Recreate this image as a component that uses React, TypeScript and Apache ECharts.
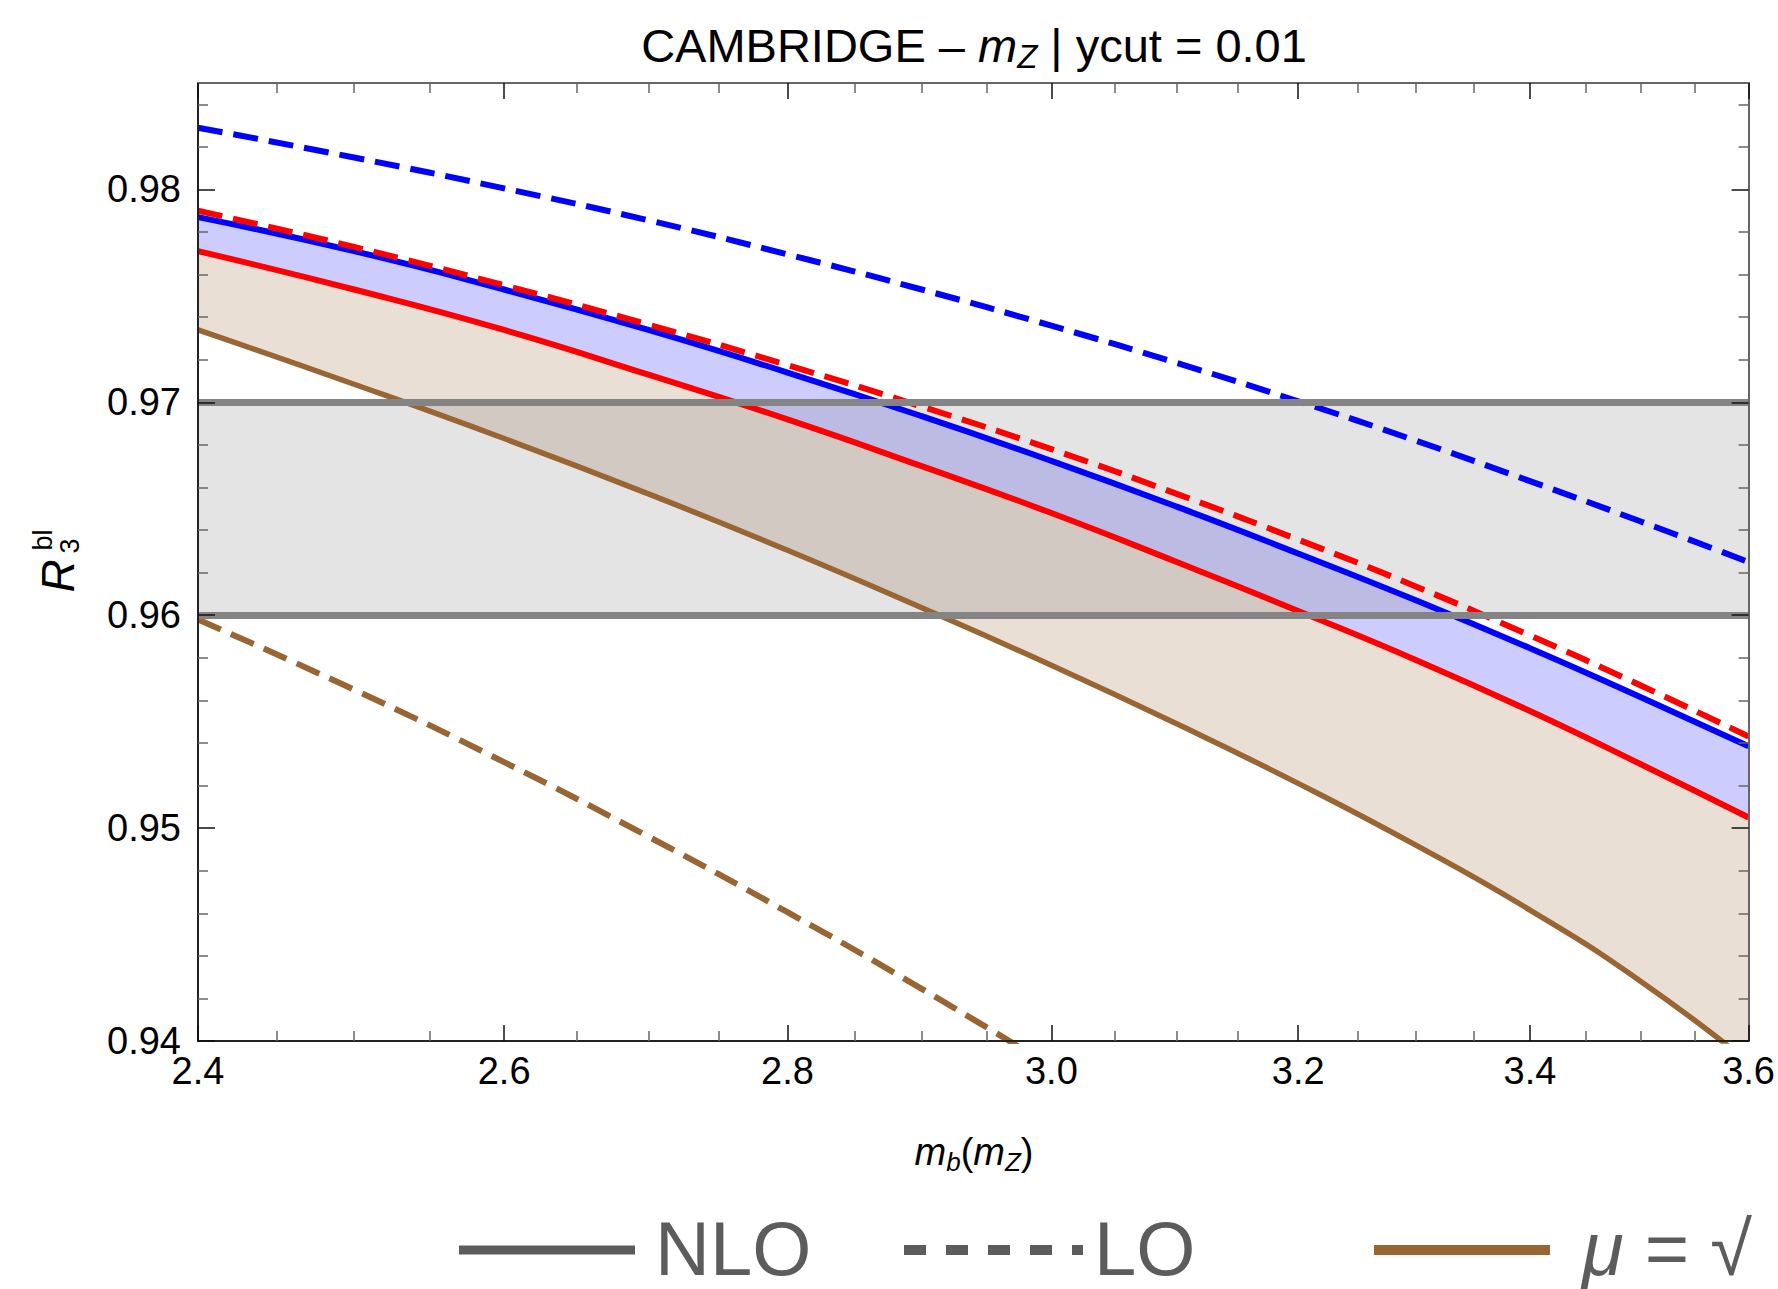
import React, { useEffect, useRef } from "react";
import * as echarts from "echarts";

// ---------- data ----------
const X_VALUES = [2.4, 2.5, 2.6, 2.7, 2.8, 2.9, 3.0, 3.1, 3.2, 3.3, 3.4, 3.5, 3.6];
const NLO_BLUE = [0.9787, 0.9771, 0.9753, 0.9734, 0.9714, 0.96935, 0.96725, 0.9651, 0.9629, 0.9607, 0.95845, 0.95615, 0.95385];
const LO_BLUE = [0.9829, 0.9815, 0.98005, 0.97855, 0.97695, 0.9753, 0.9736, 0.97185, 0.97005, 0.9682, 0.9663, 0.9644, 0.9625];
const NLO_RED = [0.9771, 0.9753, 0.9734, 0.9713, 0.9692, 0.967, 0.9648, 0.9625, 0.9602, 0.9579, 0.9555, 0.953, 0.9505];
const LO_RED = [0.979, 0.9773, 0.9755, 0.97365, 0.97175, 0.9698, 0.9678, 0.9657, 0.96355, 0.96135, 0.95905, 0.9567, 0.9543];
const NLO_BROWN = [0.9734, 0.97085, 0.9683, 0.9657, 0.96305, 0.96035, 0.95765, 0.9549, 0.9521, 0.9492, 0.94615, 0.9428, 0.939];
const LO_BROWN_X = [2.4, 2.5, 2.6, 2.7, 2.8, 2.9, 3.0];
const LO_BROWN = [0.9598, 0.9565, 0.9531, 0.9496, 0.94605, 0.94245, 0.9388];
const BAND = [0.96, 0.97];

const X_MAJOR = [2.4, 2.6, 2.8, 3.0, 3.2, 3.4, 3.6];
const X_MINOR = [2.45, 2.5, 2.55, 2.65, 2.7, 2.75, 2.85, 2.9, 2.95, 3.05, 3.1, 3.15, 3.25, 3.3, 3.35, 3.45, 3.5, 3.55];
const Y_MAJOR = [0.94, 0.95, 0.96, 0.97, 0.98];
const Y_MINOR = [0.942, 0.944, 0.946, 0.948, 0.952, 0.954, 0.956, 0.958, 0.962, 0.964, 0.966, 0.968, 0.972, 0.974, 0.976, 0.978, 0.982, 0.984];
const Y_MIN = 0.94;
const Y_MAX = 0.985;

const TITLE = "CAMBRIDGE – ";
const TITLE_TAIL = " | ycut = 0.01";
const LEGEND = ["NLO", "LO", "μ = √"];

// ---------- styling ----------
const FONT = '"Liberation Sans", Arial, sans-serif';
const BLUE = "#0000ff";
const RED = "#ff0000";
const BROWN = "#996633";
const DASH = [25, 11];

const GRID = { left: 198, top: 83, width: 1552, height: 958 };

const ln = (v: number) => Math.log(v);
const pts = (xs: number[], ys: number[]) => xs.map((x, i) => [ln(x), ys[i]]);

function xAxisDef(position: string, major: boolean, labels: boolean) {
  return {
    type: "value",
    gridIndex: 0,
    position,
    min: ln(X_MAJOR[0]),
    max: ln(X_MAJOR[X_MAJOR.length - 1]),
    z: 5,
    splitLine: { show: false },
    minorTick: { show: false },
    axisLine: {
      show: major,
      onZero: false,
      lineStyle: { color: position === "bottom" ? "#222" : "#666", width: 2 },
    },
    axisTick: {
      show: true,
      inside: true,
      length: major ? 16 : 10,
      customValues: (major ? X_MAJOR : X_MINOR).map(ln),
      lineStyle: { color: major ? "#111" : "#666", width: 1.5 },
    },
    axisLabel: labels
      ? {
          show: true,
          customValues: X_MAJOR.map(ln),
          formatter: (v: number) => Math.exp(v).toFixed(1),
          fontSize: 38,
          fontFamily: FONT,
          color: "#000",
          margin: 11,
        }
      : { show: false },
  };
}

function yAxisDef(position: string, major: boolean, labels: boolean) {
  return {
    type: "value",
    gridIndex: 0,
    position,
    min: Y_MIN,
    max: Y_MAX,
    z: 5,
    splitLine: { show: false },
    minorTick: { show: false },
    axisLine: {
      show: major,
      onZero: false,
      lineStyle: { color: position === "left" ? "#222" : "#666", width: 2 },
    },
    axisTick: {
      show: true,
      inside: true,
      length: major ? 17 : 10,
      customValues: major ? Y_MAJOR : Y_MINOR,
      lineStyle: { color: major ? "#111" : "#666", width: 1.5 },
    },
    axisLabel: labels
      ? {
          show: true,
          customValues: Y_MAJOR,
          formatter: (v: number) => v.toFixed(2),
          fontSize: 38,
          fontFamily: FONT,
          color: "#000",
          margin: 17,
        }
      : { show: false },
  };
}

const common = {
  type: "line",
  xAxisIndex: 0,
  yAxisIndex: 0,
  smooth: true,
  symbol: "none",
  showSymbol: false,
  silent: true,
  clip: true,
};

function fill(name: string, ys: number[], color: string) {
  return {
    ...common,
    name,
    z: 1,
    data: pts(X_VALUES, ys),
    lineStyle: { width: 0, opacity: 0 },
    areaStyle: { color, opacity: 1, origin: "start" },
  };
}

function curve(name: string, xs: number[], ys: number[], color: string, dashed: boolean, width = 6) {
  return {
    ...common,
    name,
    z: 3,
    data: pts(xs, ys),
    lineStyle: { color, width, type: dashed ? DASH : "solid", cap: "butt" },
  };
}

const loBrown: any = curve("LO brown", LO_BROWN_X, LO_BROWN, BROWN, true, 6);
loBrown.markArea = {
  silent: true,
  z: 2,
  itemStyle: { color: "rgba(120,120,120,0.2)" },
  data: [[{ yAxis: BAND[0] }, { yAxis: BAND[1] }]],
};
loBrown.markLine = {
  silent: true,
  z: 4,
  symbol: ["none", "none"],
  label: { show: false },
  lineStyle: { color: "#848484", width: 7, type: "solid" },
  data: BAND.map((b) => ({ yAxis: b })),
};

const sub = (size: number) => ({
  fontSize: size,
  fontFamily: FONT,
  fontStyle: "italic",
  verticalAlign: "bottom",
  lineHeight: Math.round(size * 0.85),
  fill: "#000",
});

const legendText = (x: number, text: string) => ({
  type: "text",
  x,
  y: 1248,
  style: { text, font: `76px ${FONT}`, fill: "#5c5c5c", verticalAlign: "middle" },
});

const option: any = {
  animation: false,
  backgroundColor: "#ffffff",
  grid: GRID,
  xAxis: [
    xAxisDef("bottom", true, true),
    xAxisDef("bottom", false, false),
    xAxisDef("top", true, false),
    xAxisDef("top", false, false),
  ],
  yAxis: [
    yAxisDef("left", true, true),
    yAxisDef("left", false, false),
    yAxisDef("right", true, false),
    yAxisDef("right", false, false),
  ],
  series: [
    fill("blue band", NLO_BLUE, "#ccccff"),
    fill("tan band", NLO_RED, "#e9dfd5"),
    fill("below", NLO_BROWN, "#ffffff"),
    curve("LO blue", X_VALUES, LO_BLUE, BLUE, true),
    curve("NLO blue", X_VALUES, NLO_BLUE, BLUE, false),
    curve("NLO red", X_VALUES, NLO_RED, RED, false),
    curve("LO red", X_VALUES, LO_RED, RED, true),
    curve("NLO brown", X_VALUES, NLO_BROWN, BROWN, false, 5.5),
    loBrown,
  ],
  graphic: [
    {
      type: "text",
      x: 974,
      y: 45,
      style: {
        text: `{n|${TITLE}}{i|m}{s|Z}{n|${TITLE_TAIL}}`,
        align: "center",
        verticalAlign: "middle",
        rich: {
          n: { fontSize: 47, fontFamily: FONT, lineHeight: 56, fill: "#000" },
          i: { fontSize: 47, fontFamily: FONT, fontStyle: "italic", lineHeight: 56, fill: "#000" },
          s: sub(33),
        },
      },
    },
    {
      type: "text",
      x: 974,
      y: 1152,
      style: {
        text: "{i|m}{s|b}{n|(}{i|m}{s|Z}{n|)}",
        align: "center",
        verticalAlign: "middle",
        rich: {
          n: { fontSize: 38, fontFamily: FONT, lineHeight: 46, fill: "#000" },
          i: { fontSize: 38, fontFamily: FONT, fontStyle: "italic", lineHeight: 46, fill: "#000" },
          s: sub(26),
        },
      },
    },
    {
      type: "group",
      x: 60,
      y: 557,
      rotation: Math.PI / 2,
      children: [
        {
          type: "text",
          x: -19,
          y: -2,
          style: { text: "R", font: `italic 46px ${FONT}`, fill: "#000", align: "center", verticalAlign: "middle" },
        },
        {
          type: "text",
          x: 11,
          y: 10,
          style: { text: "3", font: `27px ${FONT}`, fill: "#000", align: "center", verticalAlign: "middle" },
        },
        {
          type: "text",
          x: 17,
          y: -17,
          style: { text: "bl", font: `27px ${FONT}`, fill: "#000", align: "center", verticalAlign: "middle" },
        },
      ],
    },
    // legend
    {
      type: "line",
      shape: { x1: 459, y1: 1250, x2: 635, y2: 1250 },
      style: { stroke: "#5c5c5c", lineWidth: 9 },
    },
    legendText(655, LEGEND[0]),
    {
      type: "line",
      shape: { x1: 904, y1: 1250, x2: 1083, y2: 1250 },
      style: { stroke: "#5c5c5c", lineWidth: 10, lineDash: [22, 20] },
    },
    legendText(1094, LEGEND[1]),
    {
      type: "line",
      shape: { x1: 1374, y1: 1250, x2: 1550, y2: 1250 },
      style: { stroke: BROWN, lineWidth: 10 },
    },
    {
      type: "text",
      x: 1582,
      y: 1248,
      style: {
        text: `{i|μ}{n|${LEGEND[2].slice(1)}}`,
        verticalAlign: "middle",
        rich: {
          i: { fontSize: 76, fontFamily: FONT, fontStyle: "italic", fill: "#5c5c5c" },
          n: { fontSize: 76, fontFamily: FONT, fill: "#5c5c5c" },
        },
      },
    },
  ],
};

export default function App() {
  const ref = useRef<HTMLDivElement>(null);
  useEffect(() => {
    if (!ref.current) return;
    const chart = echarts.init(ref.current, null, { renderer: "svg" });
    chart.setOption(option);
    return () => chart.dispose();
  }, []);
  return (
    <div
      ref={ref}
      style={{ position: "absolute", left: 0, top: 0, width: 1778, height: 1289, background: "#fff" }}
    />
  );
}
